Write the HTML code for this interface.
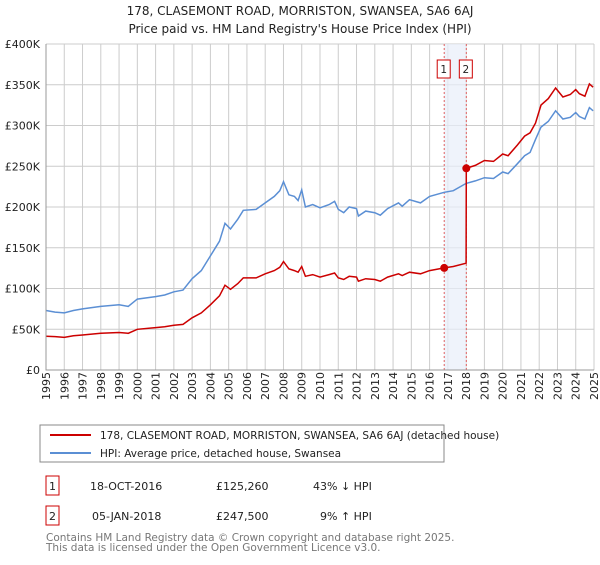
<!DOCTYPE html>
<html><head><meta charset="utf-8"><style>
body{margin:0;background:#fff;font-family:"Liberation Sans","DejaVu Sans",sans-serif;}
svg text{font-family:"DejaVu Sans","Liberation Sans",sans-serif;}
</style></head><body>
<svg id="chart" width="600" height="560" xmlns="http://www.w3.org/2000/svg">
<text x="300" y="15" text-anchor="middle" font-size="12" fill="#222">178, CLASEMONT ROAD, MORRISTON, SWANSEA, SA6 6AJ</text>
<text x="300" y="33" text-anchor="middle" font-size="12" fill="#222">Price paid vs. HM Land Registry's House Price Index (HPI)</text>
<g id="grid"></g><g id="band"></g><g id="series"></g><g id="axes"></g>
<rect x="40" y="425" width="404" height="37" fill="#fff" stroke="#888"/>
<line x1="50" y1="435" x2="91" y2="435" stroke="#cc0000" stroke-width="2"/>
<text x="100" y="439" font-size="10.5" fill="#222">178, CLASEMONT ROAD, MORRISTON, SWANSEA, SA6 6AJ (detached house)</text>
<line x1="50" y1="453" x2="91" y2="453" stroke="#5b8fd4" stroke-width="2"/>
<text x="100" y="457" font-size="10.5" fill="#222">HPI: Average price, detached house, Swansea</text>
<rect x="46" y="476" width="13" height="19" fill="#fff" stroke="#cc0000"/>
<text x="52.5" y="490" text-anchor="middle" font-size="11" fill="#222">1</text>
<text x="90" y="490" font-size="11" fill="#222">18-OCT-2016</text>
<text x="216" y="490" font-size="11" fill="#222">£125,260</text>
<text x="313" y="490" font-size="11" fill="#222">43% ↓ HPI</text>
<rect x="46" y="506" width="13" height="19" fill="#fff" stroke="#cc0000"/>
<text x="52.5" y="520" text-anchor="middle" font-size="11" fill="#222">2</text>
<text x="92" y="520" font-size="11" fill="#222">05-JAN-2018</text>
<text x="216" y="520" font-size="11" fill="#222">£247,500</text>
<text x="320" y="520" font-size="11" fill="#222">9% ↑ HPI</text>
<text x="46" y="541" font-size="10.5" fill="#777">Contains HM Land Registry data © Crown copyright and database right 2025.</text>
<text x="46" y="551" font-size="10.5" fill="#777">This data is licensed under the Open Government Licence v3.0.</text>
</svg>
<script>
const yTicks=[0,50,100,150,200,250,300,350,400];
const yTickLabels=["£0","£50K","£100K","£150K","£200K","£250K","£300K","£350K","£400K"];
const years=[1995,1996,1997,1998,1999,2000,2001,2002,2003,2004,2005,2006,2007,2008,2009,2010,2011,2012,2013,2014,2015,2016,2017,2018,2019,2020,2021,2022,2023,2024,2025];
const hpiX=[1995,1995.5,1996,1996.5,1997,1998,1999,1999.5,2000,2001,2001.5,2002,2002.5,2003,2003.5,2004,2004.5,2004.8,2005.1,2005.5,2005.8,2006.5,2007,2007.5,2007.8,2008,2008.3,2008.6,2008.8,2009,2009.2,2009.6,2010,2010.5,2010.8,2011,2011.3,2011.6,2012,2012.1,2012.5,2013,2013.3,2013.7,2014.3,2014.5,2014.9,2015.5,2016,2016.8,2017.3,2018,2018.5,2019,2019.5,2020,2020.3,2020.8,2021.2,2021.5,2021.8,2022.1,2022.5,2022.9,2023.3,2023.7,2024.0,2024.2,2024.5,2024.75,2024.95];
const hpiY=[73,71,70,73,75,78,80,78,87,90,92,96,98,112,122,140,158,180,173,185,196,197,205,213,220,231,215,213,208,221,200,203,199,203,207,197,193,200,198,189,195,193,190,198,205,201,209,205,213,218,220,229,232,236,235,243,241,253,263,267,283,298,305,318,308,310,316,311,308,322,318];
const propX=[1995,1995.5,1996,1996.5,1997,1998,1999,1999.5,2000,2001,2001.5,2002,2002.5,2003,2003.5,2004,2004.5,2004.8,2005.1,2005.5,2005.8,2006.5,2007,2007.5,2007.8,2008,2008.3,2008.6,2008.8,2009,2009.2,2009.6,2010,2010.5,2010.8,2011,2011.3,2011.6,2012,2012.1,2012.5,2013,2013.3,2013.7,2014.3,2014.5,2014.9,2015.5,2016,2016.8,2017.3,2018.0,2018.01,2018.5,2019,2019.5,2020,2020.3,2020.8,2021.2,2021.5,2021.8,2022.1,2022.5,2022.9,2023.3,2023.7,2024.0,2024.2,2024.5,2024.75,2024.95];
const propY=[41.5,41,40,42,43,45,46,45,50,52,53,55,56,64,70,80,91,104,99,106,113,113,118,122,126,133,124,122,120,127,115,117,114,117,119,113,111,115,114,109,112,111,109,114,118,116,120,118,122,125.26,127,131,247.5,251,257,256,265,263,276,287,291,303,325,333,346,335,338,344,339,336,351,347];
const saleX=[2016.8,2018.01];
const saleY=[125.26,247.5];
const saleLabels=["1","2"];
const X0=46,X1=594,Y0=370,Y1=44;
const xs=v=>X0+(v-1995)/(2025-1995)*(X1-X0);
const ys=v=>Y0-v/400*(Y0-Y1);
const NS="http://www.w3.org/2000/svg";
function mk(parent,tag,attrs){const e=document.createElementNS(NS,tag);for(const k in attrs)e.setAttribute(k,attrs[k]);document.getElementById(parent).appendChild(e);return e;}
years.forEach((yr,i)=>{
 const l=mk('grid','line',{x1:xs(yr),x2:xs(yr),y1:Y1,y2:Y0,stroke:'#ccc','stroke-width':1});
 
 
 const t=mk('axes','text',{transform:`translate(${xs(yr)+4},${Y0+30}) rotate(-90)`,'font-size':11,fill:'#222'});
 t.textContent=yr;
 
 
});
yTicks.forEach((v,i)=>{
 const l=mk('grid','line',{x1:X0,x2:X1,y1:ys(v),y2:ys(v),stroke:'#ccc','stroke-width':1});
 
 
 const t=mk('axes','text',{x:X0-6,y:ys(v)+4,'text-anchor':'end','font-size':11,fill:'#222'});
 t.textContent=yTickLabels[i];
 
 
});
const band=mk('band','rect',{x:xs(saleX[0]),y:Y1,width:xs(saleX[1])-xs(saleX[0]),height:Y0-Y1,fill:'#e8eefa',opacity:0.7});


saleX.forEach((sx,i)=>{
 const l=mk('band','line',{x1:xs(sx),x2:xs(sx),y1:Y1,y2:Y0,stroke:'#e06060','stroke-dasharray':'2,2','stroke-width':1});
 
 
 const r=mk('band','rect',{x:xs(sx)-7,y:60,width:13,height:18,fill:'#fff',stroke:'#cc0000'});
 
 
 const t=mk('band','text',{x:xs(sx)-0.5,y:73,'text-anchor':'middle','font-size':10.5,fill:'#222'});
 t.textContent=saleLabels[i];
});
const hp=mk('series','path',{d:hpiX.map((x,i)=>(i?'L':'M')+xs(x).toFixed(1)+','+ys(hpiY[i]).toFixed(1)).join(''),fill:'none',stroke:'#5b8fd4','stroke-width':1.5});


const pp=mk('series','path',{d:propX.map((x,i)=>(i?'L':'M')+xs(x).toFixed(1)+','+ys(propY[i]).toFixed(1)).join(''),fill:'none',stroke:'#cc0000','stroke-width':1.5});


saleX.forEach((sx,i)=>{
 const c=mk('series','circle',{cx:xs(sx),cy:ys(saleY[i]),r:4,fill:'#cc0000'});
 
 
});
const ax=mk('axes','path',{d:`M${X0},${Y1}V${Y0}H${X1}`,fill:'none',stroke:'#999'});


</script>
</body></html>
